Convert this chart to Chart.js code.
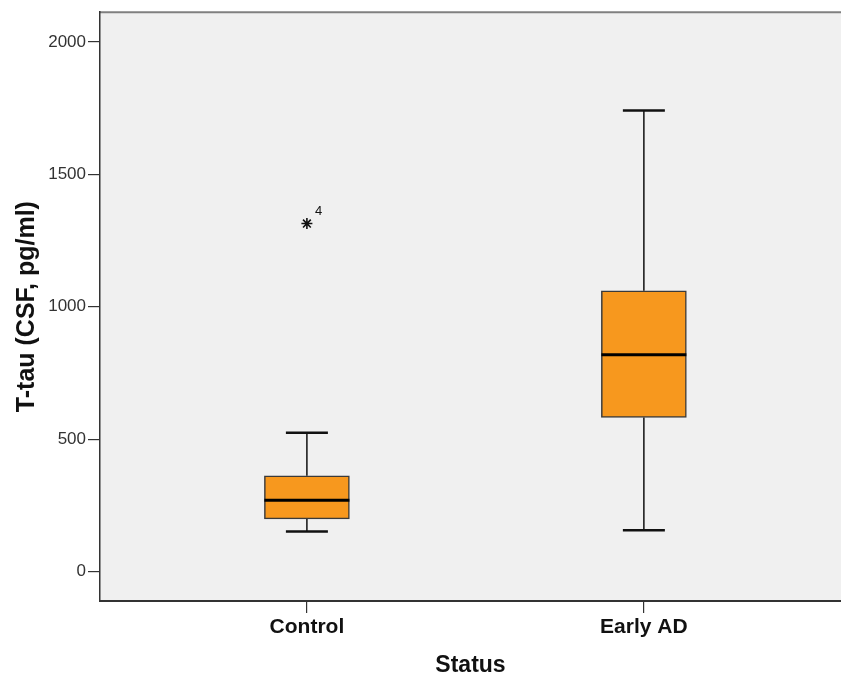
<!DOCTYPE html>
<html>
<head>
<meta charset="utf-8">
<script src="https://cdn.jsdelivr.net/npm/chart.js@4.4.1/dist/chart.umd.min.js"></script>
<style>
  html, body { margin: 0; padding: 0; background: #fff; }
  #wrap { width: 841px; height: 679px; }
</style>
</head>
<body>
<div id="wrap"><canvas id="box-chart" width="841" height="679"></canvas></div>
<script>
// boxplot values (pg/ml)
const groups = ['Control', 'Early AD'];
const whiskerLow = [151, 156];
const q1 = [199, 582];
const median = [269, 819];
const q3 = [362, 1060];
const whiskerHigh = [524, 1741];

// extreme values (SPSS star) with case numbers
const outlierGroup = [0];
const outlierValue = [1314];
const outlierCase = ['4'];

const yTicks = [0, 500, 1000, 1500, 2000];

const boxFill = 'rgb(247, 152, 30)';
const plotBg = '#f0f0f0';

const boxData = groups.map((g, i) => ({ x: i, y: [q1[i], q3[i]] }));
const outlierData = outlierGroup.map((g, i) => ({ x: g, y: outlierValue[i] }));

// whiskers, caps and median lines, drawn through the chart scales
const boxExtras = {
    id: 'boxExtras',
    beforeDraw(chart) {
        const { ctx, chartArea } = chart;
        ctx.save();
        ctx.fillStyle = plotBg;
        ctx.fillRect(chartArea.left, chartArea.top, chart.width - chartArea.left, chartArea.bottom - chartArea.top);
        ctx.strokeStyle = '#808080';
        ctx.lineWidth = 2;
        ctx.beginPath();
        ctx.moveTo(chartArea.left, chartArea.top);
        ctx.lineTo(chart.width, chartArea.top);
        ctx.stroke();
        ctx.restore();
    },
    afterDatasetsDraw(chart) {
        const { ctx } = chart;
        const xs = chart.scales.x;
        const ys = chart.scales.y;
        const bars = chart.getDatasetMeta(0).data;
        ctx.save();
        groups.forEach((g, i) => {
            const cx = xs.getPixelForValue(i);
            const half = bars[i].width / 2;
            const capHalf = 21;
            ctx.strokeStyle = '#111';
            ctx.lineWidth = 1.5;
            ctx.beginPath();
            ctx.moveTo(cx, ys.getPixelForValue(q3[i]));
            ctx.lineTo(cx, ys.getPixelForValue(whiskerHigh[i]));
            ctx.moveTo(cx, ys.getPixelForValue(q1[i]));
            ctx.lineTo(cx, ys.getPixelForValue(whiskerLow[i]));
            ctx.stroke();
            ctx.lineWidth = 2.5;
            ctx.beginPath();
            ctx.moveTo(cx - capHalf, ys.getPixelForValue(whiskerHigh[i]));
            ctx.lineTo(cx + capHalf, ys.getPixelForValue(whiskerHigh[i]));
            ctx.moveTo(cx - capHalf, ys.getPixelForValue(whiskerLow[i]));
            ctx.lineTo(cx + capHalf, ys.getPixelForValue(whiskerLow[i]));
            ctx.stroke();
            ctx.strokeStyle = '#000';
            ctx.lineWidth = 3;
            ctx.beginPath();
            ctx.moveTo(cx - half, ys.getPixelForValue(median[i]));
            ctx.lineTo(cx + half, ys.getPixelForValue(median[i]));
            ctx.stroke();
        });
        // case labels next to the stars
        ctx.fillStyle = '#111';
        ctx.font = '13px "Liberation Sans Narrow", "Liberation Sans", sans-serif';
        ctx.textAlign = 'left';
        ctx.textBaseline = 'middle';
        chart.getDatasetMeta(1).data.forEach((pt, i) => {
            ctx.fillText(outlierCase[i], pt.x + 8, pt.y - 12);
        });
        ctx.restore();
    }
};

const ctx = document.getElementById('box-chart').getContext('2d');

const chart = new Chart(ctx, {
    type: 'bar',
    data: {
        datasets: [{
            label: 'box',
            data: boxData,
            backgroundColor: boxFill,
            borderColor: '#3a3a3a',
            borderWidth: 1.5,
            borderSkipped: false,
            barThickness: 85
        }, {
            type: 'scatter',
            label: 'extremes',
            data: outlierData,
            pointStyle: 'star',
            radius: 5.5,
            borderColor: '#111',
            backgroundColor: '#111',
            borderWidth: 1.6
        }]
    },
    options: {
        responsive: false,
        animation: false,
        layout: { autoPadding: false, padding: { top: 12, right: 0, left: 0, bottom: 0 } },
        plugins: {
            legend: { display: false },
            tooltip: { enabled: false }
        },
        scales: {
            x: {
                type: 'linear',
                offset: false,
                min: -0.614,
                max: 1.585,
                afterBuildTicks: (scale) => { scale.ticks = groups.map((g, i) => ({ value: i })); },
                afterFit: (scale) => { scale.height = 78; },
                ticks: {
                    callback: (v) => groups[Math.round(v)],
                    color: '#111',
                    padding: 2,
                    maxRotation: 0,
                    autoSkip: false,
                    font: { family: '"Liberation Sans", Arial, sans-serif', size: 21, weight: 'bold' }
                },
                grid: { offset: false, drawOnChartArea: false, tickLength: 12, color: '#333', lineWidth: 1.2 },
                border: { display: true, color: '#333', width: 2 },
                title: {
                    display: true,
                    text: 'Status',
                    color: '#111',
                    padding: { top: 0, bottom: 0 },
                    font: { family: '"Liberation Sans", Arial, sans-serif', size: 23, weight: 'bold' }
                }
            },
            y: {
                min: -111,
                max: 2112,
                afterBuildTicks: (scale) => { scale.ticks = yTicks.map(v => ({ value: v })); },
                afterFit: (scale) => { scale.width = 100; },
                ticks: {
                    callback: (v) => String(v),
                    color: '#333',
                    padding: 2,
                    font: { family: '"Liberation Sans", Arial, sans-serif', size: 17 }
                },
                grid: { drawOnChartArea: false, tickLength: 12, color: '#333', lineWidth: 1.2 },
                border: { display: true, color: '#333', width: 1.5 },
                title: {
                    display: true,
                    text: 'T-tau (CSF, pg/ml)',
                    color: '#111',
                    padding: { top: 12, bottom: 0 },
                    font: { family: '"Liberation Sans", Arial, sans-serif', size: 25, weight: 'bold' }
                }
            }
        }
    },
    plugins: [boxExtras]
});
</script>
</body>
</html>
